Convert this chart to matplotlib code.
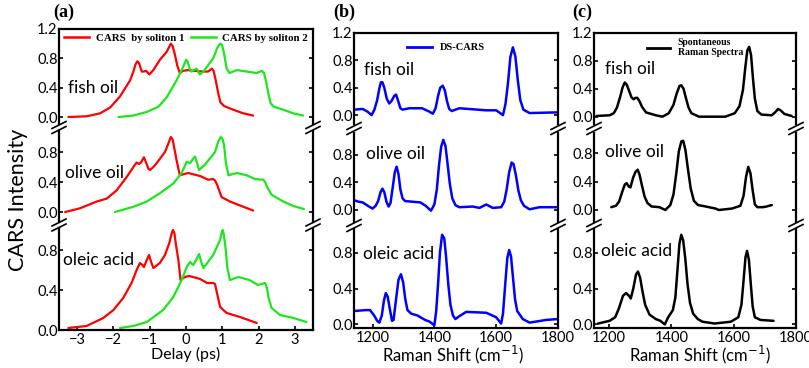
import matplotlib
matplotlib.use("Agg")
import matplotlib.pyplot as plt
from matplotlib.lines import Line2D

W, H = 809, 368

# ---------------- data ----------------
# (a) CARS vs delay
fish_red_x = [-3.24, -2.74, -2.37, -2.09, -1.82, -1.54, -1.45, -1.39, -1.34, -1.29, -1.22, -1.16, -1.10, -1.01, -0.90, -0.72, -0.53, -0.46, -0.42, -0.37, -0.31, -0.24, -0.17, -0.08, 0.05, 0.20, 0.48, 0.61, 0.71, 0.76, 0.82, 0.89, 0.95, 1.05, 1.30, 1.58, 1.85]
fish_red_y = [0.00, 0.01, 0.05, 0.13, 0.28, 0.50, 0.62, 0.72, 0.76, 0.73, 0.62, 0.62, 0.63, 0.58, 0.64, 0.78, 0.89, 0.96, 1.00, 0.97, 0.86, 0.70, 0.60, 0.63, 0.64, 0.63, 0.62, 0.62, 0.66, 0.63, 0.50, 0.32, 0.20, 0.15, 0.10, 0.05, 0.02]
fish_green_x = [-1.86, -1.45, -1.08, -0.76, -0.53, -0.26, -0.12, -0.03, 0.00, 0.04, 0.10, 0.15, 0.22, 0.29, 0.34, 0.38, 0.48, 0.75, 0.86, 0.92, 0.96, 1.00, 1.05, 1.12, 1.20, 1.40, 1.67, 1.95, 2.09, 2.15, 2.20, 2.27, 2.33, 2.42, 2.68, 2.96, 3.23]
fish_green_y = [0.00, 0.02, 0.07, 0.14, 0.27, 0.50, 0.64, 0.74, 0.78, 0.76, 0.66, 0.62, 0.64, 0.66, 0.62, 0.58, 0.62, 0.80, 0.94, 0.99, 1.00, 0.97, 0.86, 0.66, 0.60, 0.64, 0.62, 0.60, 0.63, 0.60, 0.50, 0.32, 0.19, 0.14, 0.10, 0.05, 0.02]

olive_red_x = [-3.33, -2.92, -2.46, -2.18, -1.91, -1.63, -1.45, -1.36, -1.30, -1.24, -1.16, -1.10, -1.04, -0.99, -0.90, -0.81, -0.58, -0.48, -0.42, -0.37, -0.31, -0.26, -0.17, 0.06, 0.39, 0.61, 0.75, 0.80, 0.86, 0.98, 1.21, 1.58, 1.85]
olive_red_y = [0.00, 0.05, 0.14, 0.18, 0.29, 0.47, 0.60, 0.66, 0.64, 0.66, 0.73, 0.66, 0.58, 0.56, 0.60, 0.65, 0.80, 0.92, 1.00, 0.97, 0.82, 0.69, 0.49, 0.52, 0.48, 0.43, 0.44, 0.42, 0.36, 0.20, 0.14, 0.07, 0.02]
olive_green_x = [-1.96, -1.45, -1.08, -0.72, -0.35, -0.12, 0.02, 0.07, 0.11, 0.18, 0.25, 0.30, 0.36, 0.52, 0.80, 0.89, 0.96, 1.01, 1.05, 1.10, 1.17, 1.40, 1.67, 1.90, 2.13, 2.18, 2.24, 2.36, 2.68, 2.96, 3.25]
olive_green_y = [0.00, 0.07, 0.14, 0.25, 0.38, 0.52, 0.67, 0.66, 0.65, 0.70, 0.74, 0.66, 0.56, 0.63, 0.80, 0.94, 1.00, 0.97, 0.89, 0.65, 0.49, 0.52, 0.49, 0.44, 0.43, 0.40, 0.33, 0.23, 0.14, 0.08, 0.04]

oleic_red_x = [-3.24, -2.74, -2.28, -2.00, -1.73, -1.50, -1.36, -1.27, -1.20, -1.16, -1.08, -1.02, -0.96, -0.90, -0.72, -0.58, -0.46, -0.40, -0.36, -0.32, -0.28, -0.21, -0.15, -0.03, 0.09, 0.39, 0.58, 0.75, 0.80, 0.86, 0.94, 1.12, 1.49, 1.95]
oleic_red_y = [0.02, 0.04, 0.12, 0.20, 0.32, 0.47, 0.60, 0.67, 0.65, 0.63, 0.70, 0.75, 0.68, 0.62, 0.67, 0.75, 0.87, 0.96, 1.00, 0.97, 0.86, 0.70, 0.50, 0.53, 0.54, 0.51, 0.47, 0.47, 0.46, 0.36, 0.23, 0.17, 0.13, 0.07]
oleic_green_x = [-1.82, -1.45, -1.08, -0.63, -0.35, -0.12, 0.02, 0.11, 0.20, 0.28, 0.36, 0.42, 0.48, 0.75, 0.94, 0.98, 1.01, 1.04, 1.09, 1.14, 1.21, 1.44, 1.75, 1.98, 2.18, 2.23, 2.27, 2.36, 2.59, 2.96, 3.32]
oleic_green_y = [0.02, 0.04, 0.08, 0.20, 0.33, 0.50, 0.63, 0.68, 0.65, 0.70, 0.76, 0.68, 0.62, 0.75, 0.90, 0.97, 1.00, 0.96, 0.82, 0.62, 0.50, 0.53, 0.50, 0.45, 0.47, 0.42, 0.33, 0.22, 0.15, 0.12, 0.08]

# (b) DS-CARS spectra
ds_fish_x = [1141, 1168, 1184, 1197, 1206, 1215, 1222, 1227, 1232, 1238, 1246, 1254, 1262, 1270, 1276, 1282, 1290, 1297, 1319, 1360, 1384, 1395, 1404, 1412, 1419, 1427, 1434, 1441, 1448, 1456, 1481, 1568, 1600, 1622, 1630, 1638, 1646, 1654, 1662, 1670, 1678, 1688, 1708, 1800]
ds_fish_y = [0.08, 0.09, 0.05, 0.00, 0.08, 0.22, 0.39, 0.48, 0.48, 0.40, 0.24, 0.17, 0.21, 0.28, 0.30, 0.22, 0.10, 0.08, 0.10, 0.10, 0.05, 0.02, 0.10, 0.28, 0.40, 0.43, 0.36, 0.20, 0.09, 0.06, 0.10, 0.07, 0.07, 0.00, 0.16, 0.46, 0.85, 0.99, 0.86, 0.51, 0.22, 0.08, 0.03, 0.04]
ds_olive_x = [1141, 1155, 1168, 1185, 1200, 1210, 1218, 1226, 1232, 1238, 1245, 1252, 1258, 1265, 1272, 1278, 1284, 1290, 1297, 1305, 1329, 1355, 1372, 1389, 1400, 1408, 1415, 1422, 1429, 1436, 1442, 1450, 1458, 1468, 1481, 1524, 1546, 1568, 1589, 1616, 1626, 1634, 1642, 1650, 1656, 1664, 1672, 1680, 1690, 1708, 1740, 1800]
ds_olive_y = [0.14, 0.12, 0.11, 0.06, 0.02, 0.06, 0.13, 0.26, 0.31, 0.26, 0.12, 0.05, 0.10, 0.32, 0.55, 0.63, 0.52, 0.30, 0.17, 0.13, 0.12, 0.11, 0.06, -0.01, 0.08, 0.30, 0.65, 0.92, 1.02, 0.93, 0.70, 0.38, 0.17, 0.07, 0.04, 0.05, 0.03, 0.08, 0.03, 0.04, 0.12, 0.30, 0.55, 0.69, 0.67, 0.50, 0.28, 0.14, 0.06, 0.01, 0.04, 0.04]
ds_oleic_x = [1141, 1179, 1192, 1205, 1215, 1222, 1230, 1237, 1243, 1249, 1256, 1263, 1268, 1276, 1284, 1292, 1299, 1306, 1313, 1325, 1345, 1370, 1385, 1400, 1406, 1412, 1418, 1425, 1432, 1438, 1445, 1452, 1460, 1468, 1480, 1503, 1568, 1600, 1616, 1622, 1630, 1636, 1642, 1648, 1655, 1661, 1668, 1686, 1708, 1762, 1800]
ds_oleic_y = [0.15, 0.16, 0.16, 0.10, 0.04, 0.02, 0.10, 0.27, 0.35, 0.31, 0.17, 0.04, 0.05, 0.28, 0.50, 0.56, 0.47, 0.28, 0.16, 0.12, 0.10, 0.05, 0.03, -0.01, 0.15, 0.45, 0.80, 1.00, 0.96, 0.75, 0.45, 0.22, 0.10, 0.06, 0.09, 0.14, 0.13, 0.08, 0.01, 0.12, 0.48, 0.74, 0.83, 0.76, 0.50, 0.28, 0.15, 0.06, 0.02, 0.05, 0.06]

# (c) spontaneous Raman spectra
sr_fish_x = [1160, 1202, 1215, 1225, 1235, 1243, 1250, 1256, 1263, 1271, 1278, 1284, 1290, 1297, 1305, 1318, 1349, 1370, 1390, 1405, 1415, 1424, 1430, 1437, 1445, 1453, 1462, 1486, 1570, 1600, 1615, 1626, 1634, 1640, 1646, 1652, 1658, 1664, 1672, 1685, 1718, 1730, 1738, 1746, 1758, 1781]
sr_fish_y = [0.01, 0.02, 0.05, 0.13, 0.28, 0.42, 0.49, 0.46, 0.38, 0.28, 0.25, 0.27, 0.27, 0.22, 0.14, 0.06, 0.02, 0.00, 0.05, 0.17, 0.33, 0.44, 0.45, 0.40, 0.26, 0.13, 0.05, 0.00, 0.00, 0.05, 0.15, 0.38, 0.72, 0.95, 1.00, 0.88, 0.55, 0.26, 0.08, 0.03, 0.02, 0.07, 0.11, 0.09, 0.04, 0.01]
sr_olive_x = [1207, 1222, 1232, 1242, 1250, 1256, 1263, 1268, 1276, 1284, 1291, 1297, 1305, 1313, 1322, 1335, 1360, 1379, 1395, 1405, 1414, 1422, 1430, 1436, 1443, 1451, 1460, 1470, 1483, 1507, 1539, 1549, 1591, 1618, 1628, 1636, 1643, 1650, 1657, 1664, 1672, 1690, 1702, 1718]
sr_olive_y = [0.04, 0.06, 0.12, 0.26, 0.36, 0.38, 0.33, 0.32, 0.45, 0.54, 0.57, 0.50, 0.34, 0.19, 0.10, 0.05, 0.04, 0.00, 0.07, 0.22, 0.52, 0.83, 0.97, 0.98, 0.85, 0.58, 0.30, 0.13, 0.07, 0.05, 0.02, 0.00, 0.02, 0.06, 0.20, 0.47, 0.61, 0.52, 0.28, 0.08, 0.04, 0.04, 0.05, 0.07]
sr_oleic_x = [1165, 1202, 1220, 1232, 1245, 1255, 1264, 1270, 1278, 1287, 1293, 1300, 1308, 1316, 1330, 1350, 1365, 1379, 1390, 1405, 1413, 1420, 1426, 1432, 1438, 1445, 1452, 1460, 1470, 1485, 1500, 1539, 1591, 1615, 1625, 1632, 1638, 1643, 1649, 1655, 1661, 1668, 1686, 1728]
sr_oleic_y = [0.01, 0.04, 0.08, 0.18, 0.32, 0.35, 0.32, 0.29, 0.40, 0.56, 0.59, 0.52, 0.36, 0.22, 0.11, 0.06, 0.04, 0.00, 0.08, 0.16, 0.30, 0.62, 0.90, 1.00, 0.94, 0.73, 0.45, 0.24, 0.12, 0.06, 0.03, 0.01, 0.03, 0.08, 0.22, 0.50, 0.75, 0.82, 0.72, 0.45, 0.20, 0.08, 0.05, 0.04]

samples = ["fish oil", "olive oil", "oleic acid"]
delay_ticks = [-3, -2, -1, 0, 1, 2, 3]
raman_ticks = [1200, 1400, 1600, 1800]
yticks_top = [0.0, 0.4, 0.8, 1.2]
yticks_low = [0.0, 0.4, 0.8]

# ---------------- style ----------------
SANS = "Lato"
SERIF = "Liberation Serif"
plt.rcParams["font.family"] = [SANS, "DejaVu Sans"]
plt.rcParams["axes.linewidth"] = 1.6

fig = plt.figure(figsize=(W / 100, H / 100), dpi=100)


def add_axes_px(x0, x1, ytop, ybot):
    return fig.add_axes([x0 / W, 1 - ybot / H, (x1 - x0) / W, (ybot - ytop) / H])


cols = [
    (59, 313, [(29, 124, (-0.095, 1.2)), (131, 222, (-0.133, 1.08)), (228, 330, (0.0, 1.02))], (-3.5, 3.5)),
    (354, 558, [(33, 124, (-0.13, 1.2)), (133, 222, (-0.175, 1.12)), (229, 328, (-0.04, 1.065))], (1140, 1800)),
    (594, 796, [(33, 124, (-0.105, 1.2)), (133, 222, (-0.17, 1.09)), (229, 328, (-0.04, 1.065))], (1152, 1795)),
]

RED, GREEN, BLUE, BLACK = "#ff0000", "#1ee61e", "#0000ff", "#000000"
series = [
    [[(fish_red_x, fish_red_y, RED), (fish_green_x, fish_green_y, GREEN)],
     [(olive_red_x, olive_red_y, RED), (olive_green_x, olive_green_y, GREEN)],
     [(oleic_red_x, oleic_red_y, RED), (oleic_green_x, oleic_green_y, GREEN)]],
    [[(ds_fish_x, ds_fish_y, BLUE)], [(ds_olive_x, ds_olive_y, BLUE)], [(ds_oleic_x, ds_oleic_y, BLUE)]],
    [[(sr_fish_x, sr_fish_y, BLACK)], [(sr_olive_x, sr_olive_y, BLACK)], [(sr_oleic_x, sr_oleic_y, BLACK)]],
]

label_pos = [
    [(-3.25, 0.40), (-3.33, 0.52), (-3.39, 0.70)],
    [(1173, 0.66), (1178, 0.82), (1168, 0.79)],
    [(1186, 0.68), (1186, 0.82), (1173, 0.82)],
]

all_axes = []
for ci, (x0, x1, rows, xlim) in enumerate(cols):
    col_axes = []
    for ri, (ytop, ybot, ylim) in enumerate(rows):
        ax = add_axes_px(x0, x1, ytop, ybot)
        for xs, ys, c in series[ci][ri]:
            ax.plot(xs, ys, color=c, lw=1.6 if ci == 0 else 1.8,
                    solid_joinstyle="round", solid_capstyle="round")
        ax.set_xlim(*xlim)
        ax.set_ylim(*ylim)
        yt = yticks_top if ri == 0 else yticks_low
        ax.set_yticks(yt)
        ax.set_yticklabels([f"{v:.1f}" for v in yt])
        ax.tick_params(axis="y", direction="in", length=3, width=1.2, right=True,
                       labelsize=10.5, pad=1)
        ax.spines["bottom"].set_visible(ri == 2)
        ax.spines["top"].set_visible(ri == 0)
        if ri == 2:
            ax.set_xticks(delay_ticks if ci == 0 else raman_ticks)
            ax.tick_params(axis="x", direction="in", length=3, width=1.2, labelsize=10.5, pad=2)
        else:
            ax.set_xticks([])
        ax.text(label_pos[ci][ri][0], label_pos[ci][ri][1], samples[ri], fontsize=12.5,
                ha="left", va="center")
        col_axes.append(ax)
    all_axes.append(col_axes)

    # break marks between panels
    for (ytop1, ybot1, _), (ytop2, ybot2, _) in zip(rows[:-1], rows[1:]):
        ymid = (ybot1 + ytop2) / 2.0
        for xs in (x0, x1):
            for dy in (-2.5, 2.5):
                yc = H - (ymid + dy)
                fig.add_artist(Line2D([(xs - 7) / W, (xs + 7) / W], [(yc - 3.5) / H, (yc + 3.5) / H],
                                      color="black", lw=1.2, transform=fig.transFigure))

# legends
leg_font = dict(family=SERIF, weight="bold", size=7.8)
ax = all_axes[0][0]
ax.legend([Line2D([], [], color=RED, lw=1.8), Line2D([], [], color=GREEN, lw=1.8)],
          ["CARS  by soliton 1", "CARS by soliton 2"], ncol=2, frameon=False,
          loc="center", bbox_to_anchor=(0.5, 0.905), prop=leg_font, handlelength=2.3,
          handletextpad=0.6, columnspacing=0.6, borderpad=0)
ax = all_axes[1][0]
ax.legend([Line2D([], [], color=BLUE, lw=2)], ["DS-CARS"], frameon=False,
          loc="center", bbox_to_anchor=(0.45, 0.84), prop=dict(family=SERIF, weight="bold", size=7.5),
          handlelength=2.4, handletextpad=0.8, borderpad=0)
ax = all_axes[2][0]
ax.legend([Line2D([], [], color=BLACK, lw=2)], ["Spontaneous\nRaman Spectra"], frameon=False,
          loc="center", bbox_to_anchor=(0.5, 0.84), prop=dict(family=SERIF, weight="bold", size=7),
          handlelength=2.4, handletextpad=0.8, borderpad=0)

# panel labels
for txt, xp in (("(a)", 53), ("(b)", 333), ("(c)", 572)):
    fig.text(xp / W, 1 - 12 / H, txt, family=SERIF, weight="bold", fontsize=13, ha="left", va="center")

# axis labels
fig.text(18 / W, 1 - 200 / H, "CARS Intensity", rotation=90, fontsize=15.5, ha="center", va="center")
fig.text(186 / W, 1 - 354 / H, "Delay (ps)", fontsize=11.5, ha="center", va="center")
fig.text(453 / W, 1 - 355 / H, "Raman Shift (cm$^{-1}$)", fontsize=12, ha="center", va="center")
fig.text(700 / W, 1 - 355 / H, "Raman Shift (cm$^{-1}$)", fontsize=12, ha="center", va="center")

fig.savefig("out.png", dpi=100)
